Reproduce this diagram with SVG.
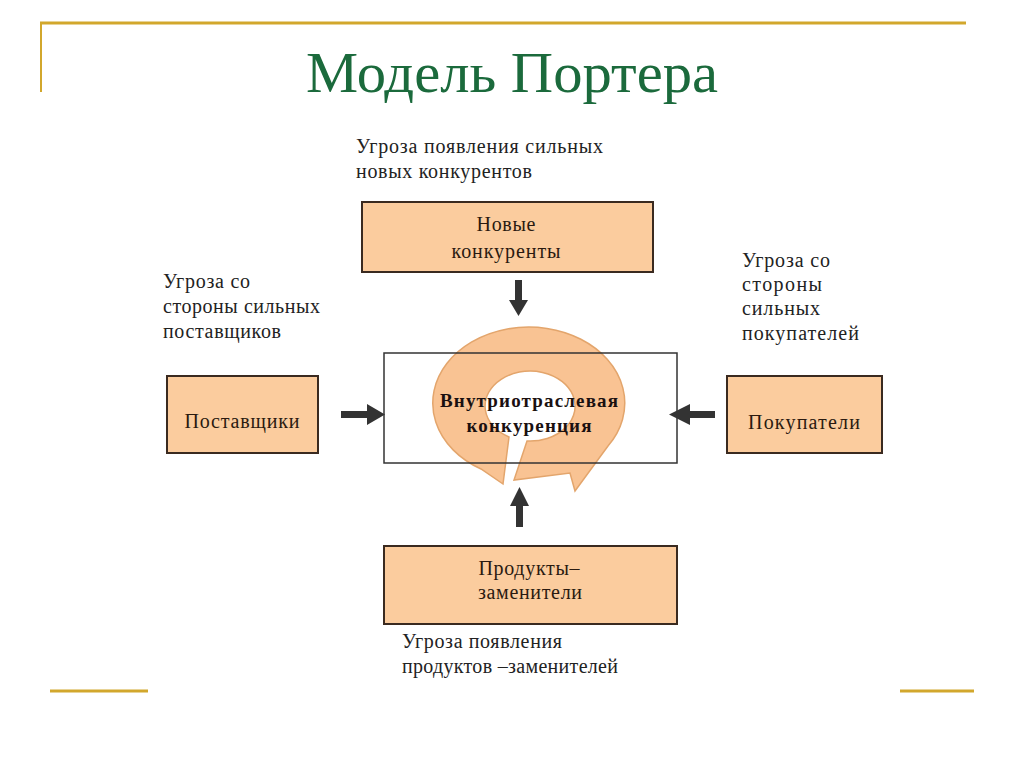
<svg xmlns="http://www.w3.org/2000/svg" width="1024" height="767" viewBox="0 0 1024 767">
<defs>
<style>
.gold{stroke:#d2a72c;fill:none}
.box{fill:#fbcc9e;stroke:#3a2a20;stroke-width:2}
.t{font-family:"Liberation Serif","Times New Roman",serif;font-size:20px;fill:#222}
.bt{font-family:"Liberation Serif","Times New Roman",serif;font-size:20px;fill:#2a1a10}
.ct{font-family:"Liberation Serif","Times New Roman",serif;font-size:19px;font-weight:bold;fill:#1a1010}
.arr{fill:#333}
</style>
</defs>
<rect width="1024" height="767" fill="#ffffff"/>
<g id="frame">
<line class="gold" x1="40" y1="23" x2="966" y2="23" stroke-width="3"/>
<line class="gold" x1="41" y1="22" x2="41" y2="92" stroke-width="2"/>
<line class="gold" x1="50" y1="691" x2="148" y2="691" stroke-width="3"/>
<line class="gold" x1="900" y1="691" x2="974" y2="691" stroke-width="3"/>
</g>
<text id="title" x="512" y="92" text-anchor="middle" font-family="'Liberation Serif','Times New Roman',serif" font-size="58" fill="#1b6a3c" textLength="412" lengthAdjust="spacingAndGlyphs">Модель Портера</text>

<g id="center">
<rect x="384" y="353" width="293" height="110" fill="#ffffff"/>
<path d="M503,484 L481,469 A96 76 0 1 1 608,446 L575,491 L570,473 L514,480 L527,441 A45 35 0 1 0 509,437 Z" fill="#f9c393" stroke="#e3a56c" stroke-width="1.5"/>
<rect x="384" y="353" width="293" height="110" fill="none" stroke="#333" stroke-width="1.5"/>
<text class="ct" x="529" y="407" text-anchor="middle" textLength="178" lengthAdjust="spacing">Внутриотраслевая</text>
<text class="ct" x="529" y="432" text-anchor="middle" textLength="125" lengthAdjust="spacing">конкуренция</text>
</g>

<g id="new-competitors">
<text class="t" x="356" y="153" textLength="247" lengthAdjust="spacing">Угроза появления сильных</text>
<text class="t" x="356" y="178" textLength="176" lengthAdjust="spacing">новых конкурентов</text>
<rect class="box" x="362" y="202" width="291" height="70"/>
<text class="bt" x="506" y="231" text-anchor="middle" textLength="59" lengthAdjust="spacing">Новые</text>
<text class="bt" x="506" y="258" text-anchor="middle" textLength="109" lengthAdjust="spacing">конкуренты</text>
</g>

<g id="suppliers">
<text class="t" x="163" y="288" textLength="87" lengthAdjust="spacing">Угроза со</text>
<text class="t" x="163" y="313" textLength="157" lengthAdjust="spacing">стороны сильных</text>
<text class="t" x="163" y="338" textLength="118" lengthAdjust="spacing">поставщиков</text>
<rect class="box" x="167" y="376" width="151" height="77"/>
<text class="bt" x="242" y="428" text-anchor="middle" textLength="115" lengthAdjust="spacing">Поставщики</text>
</g>

<g id="buyers">
<text class="t" x="742" y="267" textLength="88" lengthAdjust="spacing">Угроза со</text>
<text class="t" x="742" y="291" textLength="80" lengthAdjust="spacing">стороны</text>
<text class="t" x="742" y="315" textLength="78" lengthAdjust="spacing">сильных</text>
<text class="t" x="742" y="340" textLength="117" lengthAdjust="spacing">покупателей</text>
<rect class="box" x="727" y="376" width="155" height="77"/>
<text class="bt" x="804" y="429" text-anchor="middle" textLength="112" lengthAdjust="spacing">Покупатели</text>
</g>

<g id="substitutes">
<rect class="box" x="384" y="546" width="293" height="78"/>
<text class="bt" x="529" y="575" text-anchor="middle" textLength="101" lengthAdjust="spacing">Продукты–</text>
<text class="bt" x="530" y="599" text-anchor="middle" textLength="104" lengthAdjust="spacing">заменители</text>
<text class="t" x="402" y="648" textLength="160" lengthAdjust="spacing">Угроза появления</text>
<text class="t" x="402" y="673" textLength="216" lengthAdjust="spacing">продуктов –заменителей</text>
</g>

<g id="connectors">
<polygon class="arr" points="515,280 522,280 522,300 528,300 518.5,316 509,300 515,300"/>
<polygon class="arr" points="516,527 523,527 523,506 529,506 519.5,487 510,506 516,506"/>
<polygon class="arr" points="341,411 367,411 367,404 385,414.5 367,425 367,418 341,418"/>
<polygon class="arr" points="715,411 690,411 690,404 669,414.5 690,425 690,418 715,418"/>
</g>
</svg>
